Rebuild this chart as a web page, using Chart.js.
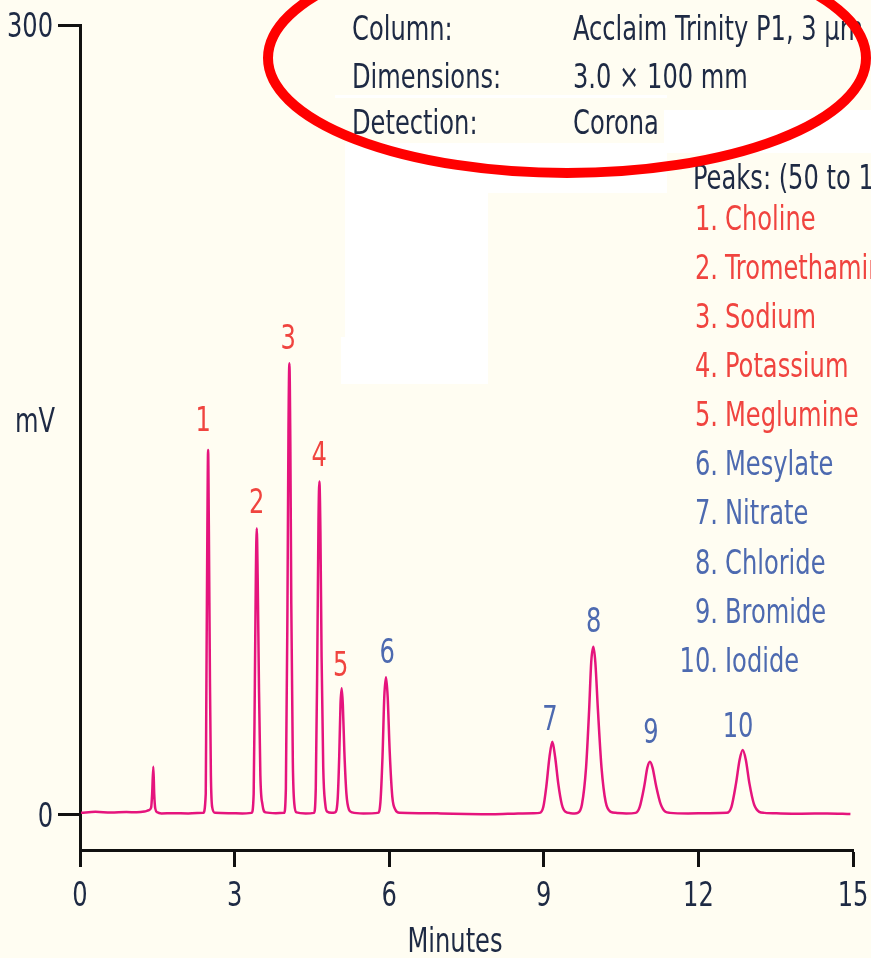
<!DOCTYPE html>
<html>
<head>
<meta charset="utf-8">
<script src="https://cdn.jsdelivr.net/npm/chart.js"></script>
<style>
  html, body { margin: 0; padding: 0; background: #fffdf2; }
  #chart { display: block; }
</style>
</head>
<body>
<canvas id="chart" width="871" height="958"></canvas>
<script>
// trace: minutes / mV
var traceMinutes = [
    0.02, 0.3, 0.6, 0.9, 1.1, 1.25, 1.33, 1.38, 1.40, 1.423, 1.44, 1.46, 1.50, 1.58, 1.8, 2.1,
    2.39, 2.44, 2.45, 2.472, 2.486, 2.50, 2.522, 2.54, 2.565, 2.62, 2.9, 3.15,
    3.33, 3.37, 3.393, 3.413, 3.43, 3.448, 3.472, 3.50, 3.54, 3.60, 3.8,
    3.96, 3.995, 4.026, 4.045, 4.063, 4.082, 4.10, 4.13, 4.16, 4.20, 4.38,
    4.54, 4.575, 4.605, 4.628, 4.645, 4.665, 4.688, 4.72, 4.76, 4.80, 4.88,
    4.95, 5.00, 5.03, 5.055, 5.078, 5.10, 5.13, 5.17, 5.22, 5.28, 5.5,
    5.78, 5.83, 5.87, 5.905, 5.938, 5.97, 6.01, 6.06, 6.12, 6.20,
    6.6, 7.0, 7.5, 8.0, 8.5, 8.8,
    8.92, 8.99, 9.05, 9.11, 9.166, 9.22, 9.28, 9.35, 9.42, 9.52, 9.60,
    9.66, 9.74, 9.82, 9.88, 9.92, 9.962, 10.00, 10.05, 10.12, 10.20, 10.30, 10.40, 10.6,
    10.78, 10.86, 10.95, 11.01, 11.06, 11.11, 11.18, 11.27, 11.36, 11.45, 11.8, 12.2,
    12.55, 12.64, 12.73, 12.80, 12.86, 12.92, 12.99, 13.08, 13.18, 13.28,
    13.6, 14.0, 14.5, 14.95
];
var traceMv = [
    0.8, 1.2, 0.9, 1.1, 1.0, 1.3, 1.8, 2.8, 8, 18.3, 8, 2.5, 1.0, 0.6, 0.7, 0.6,
    0.8, 8, 40, 110, 138.6, 110, 50, 15, 3, 0.8, 0.7, 0.6,
    0.8, 8, 50, 92, 108.9, 90, 50, 15, 4, 1, 0.7,
    0.8, 10, 80, 145, 171.5, 140, 80, 20, 4, 1, 0.6,
    0.8, 10, 60, 112, 126.6, 108, 60, 18, 4, 1.2, 0.8,
    1, 6, 22, 42, 48.1, 42, 24, 8, 2, 1, 0.6,
    0.8, 5, 22, 45, 52.3, 45, 24, 7, 2, 0.8,
    0.7, 0.6, 0.4, 0.3, 0.6, 0.7,
    0.8, 3, 11, 22, 27.8, 22, 12, 4, 1.2, 0.7, 0.6,
    0.8, 4, 18, 40, 58, 63.9, 58, 40, 18, 5, 1.2, 0.8, 0.6,
    0.8, 3, 11, 18, 20.2, 18, 11, 4, 1.2, 0.8, 0.6, 0.7,
    0.8, 3, 12, 21, 24.7, 21, 12, 4, 1.2, 0.8,
    0.6, 0.5, 0.6, 0.4
];

var peakNumbers = ["1", "2", "3", "4", "5", "6", "7", "8", "9", "10"];
var peakNames = ["Choline", "Tromethamine", "Sodium", "Potassium", "Meglumine",
                 "Mesylate", "Nitrate", "Chloride", "Bromide", "Iodide"];
var labelMinutes = [2.39, 3.43, 4.04, 4.64, 5.06, 5.96, 9.12, 9.97, 11.08, 12.77];
var labelMv = [150.7, 119.5, 181.9, 137.5, 57.7, 62.6, 37.2, 74.4, 32.3, 34.6];

var yTicks = [0, 300];
var xTicks = [0, 3, 6, 9, 12, 15];

var headerKeys = ["Column:", "Dimensions:", "Detection:"];
var headerValues = ["Acclaim Trinity P1, 3 \u00b5m", "3.0 \u00d7 100 mm", "Corona"];
var peaksTitle = "Peaks: (50 to 100 mg/L)";

var FONT = "'DejaVu Sans Condensed', 'DejaVu Sans', sans-serif";
var NARROW = 0.79;
var RED = "#f0443f";
var BLUE = "#4d6ab0";
var INK = "#1e2a44";
var TRACE = "#e5147d";

var ctx = document.getElementById("chart");

// squeeze text horizontally, the figure uses a condensed face
function narrowText(c, text, x, y, align)
{
    c.save();
    c.translate(x, y);
    c.scale(NARROW, 1);
    c.textAlign = align;
    c.fillText(text, 0, 0);
    c.restore();
}

var pagePlugin = {
    id: "page",
    beforeDraw: function(chart) {
        var c = chart.ctx;
        c.save();
        c.fillStyle = "#fffdf2";
        c.fillRect(0, 0, chart.width, chart.height);
        // white patches over the figure
        c.fillStyle = "#ffffff";
        c.fillRect(335, 95, 332, 3);
        c.fillRect(345, 143, 322, 50);
        c.fillRect(345, 143, 143, 194);
        c.fillRect(341, 337, 147, 47);
        c.fillRect(664, 110, 207, 43);
        c.restore();
    },
    afterDraw: function(chart) {
        var c = chart.ctx;
        var xs = chart.scales.x;
        var ys = chart.scales.y;
        var i;
        c.save();
        c.textBaseline = "middle";
        c.fillStyle = INK;

        // tick labels, positioned by the scales
        c.font = "34px " + FONT;
        for (i = 0; i < xs.ticks.length; i++) {
            narrowText(c, String(xs.ticks[i].value), xs.getPixelForValue(xs.ticks[i].value), 897, "center");
        }
        for (i = 0; i < ys.ticks.length; i++) {
            narrowText(c, String(ys.ticks[i].value), 53, ys.getPixelForValue(ys.ticks[i].value) + 3, "right");
        }

        // axis titles
        narrowText(c, "mV", 35, 423, "center");
        narrowText(c, "Minutes", 455, 943, "center");

        // header block
        var hy = [31, 79, 125];
        for (i = 0; i < headerKeys.length; i++) {
            narrowText(c, headerKeys[i], 352, hy[i], "left");
            narrowText(c, headerValues[i], 573, hy[i], "left");
        }

        // peaks list
        narrowText(c, peaksTitle, 693, 180, "left");
        for (i = 0; i < peakNames.length; i++) {
            var ly = 221 + i * 49.1;
            c.fillStyle = i < 5 ? RED : BLUE;
            narrowText(c, peakNumbers[i] + ".", 718, ly, "right");
            narrowText(c, peakNames[i], 725, ly, "left");
        }

        // peak numbers above the trace
        c.font = "34px " + FONT;
        for (i = 0; i < peakNumbers.length; i++) {
            c.fillStyle = i < 5 ? RED : BLUE;
            narrowText(c, peakNumbers[i], xs.getPixelForValue(labelMinutes[i]), ys.getPixelForValue(labelMv[i]) + 4, "center");
        }

        // red ellipse marking
        c.beginPath();
        c.ellipse(567, 58, 299, 115, 0, 0, Math.PI * 2);
        c.lineWidth = 10;
        c.strokeStyle = "#ff0000";
        c.stroke();
        c.restore();
    }
};

var chartData = traceMinutes.map(function(t, i) {
    return { x: t, y: traceMv[i] };
});

var myChart = new Chart(ctx, {
    type: "line",
    data: {
        datasets: [{
            label: "trace",
            data: chartData,
            borderColor: TRACE,
            borderWidth: 2.5,
            pointRadius: 0,
            fill: false,
            cubicInterpolationMode: "monotone"
        }]
    },
    options: {
        responsive: false,
        animation: false,
        devicePixelRatio: 1,
        layout: { padding: { top: 25, right: 18, left: 0, bottom: 0 } },
        plugins: {
            legend: { display: false },
            tooltip: { enabled: false }
        },
        scales: {
            x: {
                type: "linear",
                min: 0,
                max: 15,
                afterBuildTicks: function(scale) {
                    scale.ticks = xTicks.map(function(v) { return { value: v }; });
                },
                afterFit: function(scale) { scale.height = 108; },
                ticks: { display: false },
                grid: {
                    drawOnChartArea: false,
                    drawTicks: true,
                    tickLength: 17,
                    tickWidth: 3,
                    tickColor: "#111111"
                },
                border: { display: true, color: "#111111", width: 3 }
            },
            y: {
                type: "linear",
                min: -13.3,
                max: 300,
                afterBuildTicks: function(scale) {
                    scale.ticks = yTicks.map(function(v) { return { value: v }; });
                },
                afterFit: function(scale) { scale.width = 80; },
                ticks: { display: false },
                grid: {
                    drawOnChartArea: false,
                    drawTicks: true,
                    tickLength: 22,
                    tickWidth: 3,
                    tickColor: "#111111"
                },
                border: { display: true, color: "#111111", width: 3 }
            }
        }
    },
    plugins: [pagePlugin]
});
</script>
</body>
</html>
